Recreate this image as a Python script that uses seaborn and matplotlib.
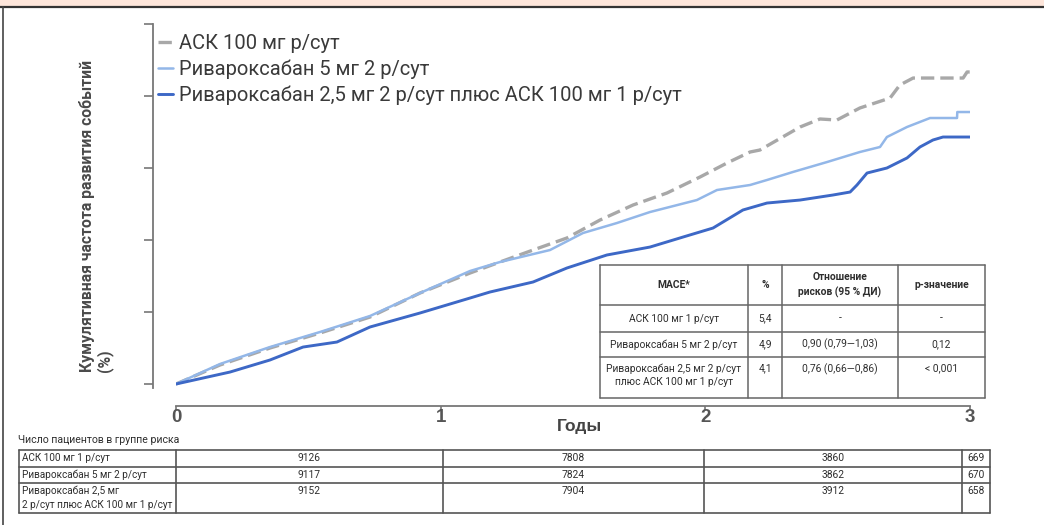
import numpy as np
import pandas as pd
import seaborn as sns
import matplotlib.pyplot as plt
import matplotlib.transforms as mtransforms
from matplotlib.lines import Line2D
from matplotlib.patches import Rectangle

sns.set_theme(style="ticks")
NARROW = ["Roboto", "DejaVu Sans"]
ARIAL = ["Liberation Sans", "DejaVu Sans"]
plt.rcParams['font.family'] = ["Roboto", "DejaVu Sans"]
plt.rcParams['axes.unicode_minus'] = False

# --- data (years, cumulative %) ---
asa_t = [0.0, 0.166, 0.355, 0.544, 0.733, 0.922, 1.111, 1.224, 1.349, 1.477, 1.602, 1.727,
         1.855, 1.980, 2.082, 2.169, 2.206, 2.358, 2.433, 2.497, 2.584, 2.698, 2.735, 2.785,
         2.974, 2.989, 3.0]
asa_y = [0.0, 0.33, 0.625, 0.885, 1.163, 1.58, 1.927, 2.118, 2.326, 2.535, 2.847, 3.108,
         3.316, 3.594, 3.837, 4.028, 4.062, 4.462, 4.601, 4.583, 4.792, 4.965, 5.191, 5.312,
         5.312, 5.417, 5.417]

riva5_t = [0.0, 0.166, 0.355, 0.544, 0.733, 0.922, 1.111, 1.224, 1.413, 1.538, 1.666, 1.791,
           1.968, 2.044, 2.169, 2.233, 2.331, 2.460, 2.584, 2.660, 2.686, 2.762, 2.849, 2.951,
           2.952, 3.0]
riva5_y = [0.0, 0.347, 0.642, 0.903, 1.181, 1.58, 1.962, 2.118, 2.326, 2.622, 2.795, 2.986,
           3.194, 3.368, 3.455, 3.542, 3.681, 3.854, 4.028, 4.115, 4.288, 4.462, 4.618, 4.618,
           4.722, 4.722]

combo_t = [0.0, 0.204, 0.355, 0.480, 0.608, 0.733, 0.922, 1.111, 1.186, 1.349, 1.477, 1.628,
           1.791, 1.916, 2.029, 2.142, 2.233, 2.358, 2.482, 2.547, 2.573, 2.611, 2.686, 2.762,
           2.811, 2.860, 2.898, 3.0]
combo_y = [0.0, 0.208, 0.417, 0.642, 0.729, 0.99, 1.233, 1.493, 1.597, 1.771, 2.014, 2.24,
           2.378, 2.552, 2.708, 3.021, 3.142, 3.194, 3.281, 3.333, 3.455, 3.663, 3.75, 3.924,
           4.115, 4.236, 4.288, 4.288]

labels = ["АСК 100 мг р/сут",
          "Ривароксабан 5 мг 2 р/сут",
          "Ривароксабан 2,5 мг 2 р/сут плюс АСК 100 мг 1 р/сут"]
colors = ["#a8a8a8", "#93b7e8", "#3d68c6"]
year_ticks = [0, 1, 2, 3]

mace_header = ["MACE*", "%", "Отношение\nрисков (95 % ДИ)", "р-значение"]
mace_groups = ["АСК 100 мг 1 р/сут", "Ривароксабан 5 мг 2 р/сут",
               "Ривароксабан 2,5 мг 2 р/сут\nплюс АСК 100 мг 1 р/сут"]
mace_pct = ["5,4", "4,9", "4,1"]
mace_hr = ["-", "0,90 (0,79—1,03)", "0,76 (0,66—0,86)"]
mace_p = ["-", "0,12", "< 0,001"]

risk_groups = ["АСК 100 мг 1 р/сут", "Ривароксабан 5 мг 2 р/сут",
               "Ривароксабан 2,5 мг\n2 р/сут плюс АСК 100 мг 1 р/сут"]
risk_asa = [9126, 7808, 3860, 669]
risk_riva5 = [9117, 7824, 3862, 670]
risk_combo = [9152, 7904, 3912, 658]

W, H = 1044, 525


def fx(x):
    return x / W


def fy(y):
    return 1 - y / H


fig = plt.figure(figsize=(W / 100, H / 100), dpi=100)

# frame decorations
fig.add_artist(Rectangle((0, fy(6)), 1, 1 - fy(6), transform=fig.transFigure,
                         facecolor="#fde5da", edgecolor="none"))
fig.add_artist(Line2D([0, 1], [fy(6.5), fy(6.5)], color="#333333", lw=1.6))
fig.add_artist(Line2D([fx(3), fx(3)], [0, fy(6.5)], color="#444444", lw=1.2))

ax = fig.add_axes([fx(176), fy(388), fx(970) - fx(176), fy(24) - fy(388)])

sns.lineplot(x=asa_t, y=asa_y, ax=ax, color=colors[0], lw=2.4, label=labels[0],
             estimator=None, linestyle=(0, (4, 1.8)))
sns.lineplot(x=riva5_t, y=riva5_y, ax=ax, color=colors[1], lw=1.8, label=labels[1],
             estimator=None)
sns.lineplot(x=combo_t, y=combo_y, ax=ax, color=colors[2], lw=2.1, label=labels[2],
             estimator=None)

ax.set_xlim(0, 3)
ax.set_ylim(-0.069, 6.25)
ax.set_xticks(year_ticks)
ax.set_xticklabels([])
# bold year labels under the ticks
trans = mtransforms.blended_transform_factory(ax.transData, fig.transFigure)
for t in year_ticks:
    ax.text(t, fy(422), str(t), transform=trans, ha="center", va="baseline",
            fontsize=13.5, fontweight="bold", color="#555555", family=ARIAL,
            clip_on=False)
ax.set_yticks([0, 1.25, 2.5, 3.75, 5, 6.25])
ax.set_yticklabels([])
ax.set_xlabel("")
ax.set_ylabel("")
for s in ["top", "right"]:
    ax.spines[s].set_visible(False)
ax.spines["left"].set_position(("outward", 23 * 0.72))
ax.spines["bottom"].set_position(("outward", 18 * 0.72))
ax.spines["bottom"].set_bounds(0, 3)
for s in ["left", "bottom"]:
    ax.spines[s].set_color("#777777")
    ax.spines[s].set_linewidth(1.3)
ax.tick_params(axis="y", length=6.5, width=1.2, color="#777777")
ax.tick_params(axis="x", length=3, width=1.2, color="#777777", pad=1)
ax.patch.set_alpha(0)

leg = ax.legend(loc="upper left", bbox_to_anchor=(fx(158), fy(34)),
                bbox_transform=fig.transFigure, frameon=False, handlelength=0.75,
                handletextpad=0.3, labelspacing=0.33, borderpad=0, borderaxespad=0,
                fontsize=14.5, labelcolor="#3a3a3a")

fig.text(fx(96), fy(372), "Кумулятивная частота развития событий\n(%)", rotation=90,
         ha="center", va="bottom", multialignment="left", fontsize=11.3,
         fontweight="bold", color="#4a4a4a", family=NARROW, linespacing=1.05)
fig.text(fx(580), fy(427), "Годы", ha="center", va="center", fontsize=12.5,
         fontweight="bold", color="#444444", family=ARIAL)


def grid_lines(cols, rows, color="#666666", lw=1.1):
    fig.add_artist(Rectangle((fx(cols[0]), fy(rows[-1])), fx(cols[-1]) - fx(cols[0]),
                             fy(rows[0]) - fy(rows[-1]), transform=fig.transFigure,
                             facecolor="white", edgecolor="none", zorder=5))
    for x in cols:
        fig.add_artist(Line2D([fx(x)] * 2, [fy(rows[0]), fy(rows[-1])],
                              color=color, lw=lw, zorder=6))
    for y in rows:
        fig.add_artist(Line2D([fx(cols[0]), fx(cols[-1])], [fy(y)] * 2,
                              color=color, lw=lw, zorder=6))


def cell(x, y, s, ha="center", va="center", bold=False, size=7.4):
    fig.text(fx(x), fy(y), s, ha=ha, va=va, fontsize=size, color="#2e2e2e",
             fontweight="bold" if bold else "normal", family=NARROW, zorder=7,
             linespacing=1.45)


# MACE table
mc = [600, 748, 782, 898, 985]
mr = [265, 305, 332, 357, 398]
grid_lines(mc, mr)
for i, h in enumerate(mace_header):
    cell((mc[i] + mc[i + 1]) / 2, (mr[0] + mr[1]) / 2, h, bold=True)
for r in range(3):
    if r < 2:
        yc = (mr[r + 1] + mr[r + 2]) / 2
        va = "center"
    else:
        yc = mr[r + 1] + 6
        va = "top"
    cell((mc[0] + mc[1]) / 2, yc, mace_groups[r], va=va)
    cell((mc[1] + mc[2]) / 2, yc, mace_pct[r], va=va)
    cell((mc[2] + mc[3]) / 2, yc, mace_hr[r], va=va)
    cell((mc[3] + mc[4]) / 2, yc, mace_p[r], va=va)

# number at risk table
fig.text(fx(18), fy(440), "Число пациентов в группе риска", ha="left", va="center",
         fontsize=7.6, color="#2e2e2e", family=NARROW)
rc = [19, 176, 443, 704, 962, 990]
rr = [450, 467, 483, 513]
grid_lines(rc, rr, color="#555555", lw=1.2)
for r, vals in enumerate([risk_asa, risk_riva5, risk_combo]):
    ytop = rr[r] + 3
    cell(22, ytop, risk_groups[r], ha="left", va="top", size=7.2)
    for c, v in enumerate(vals):
        cell((rc[c + 1] + rc[c + 2]) / 2, ytop, str(v), va="top")

fig.savefig("out.png", dpi=100)
